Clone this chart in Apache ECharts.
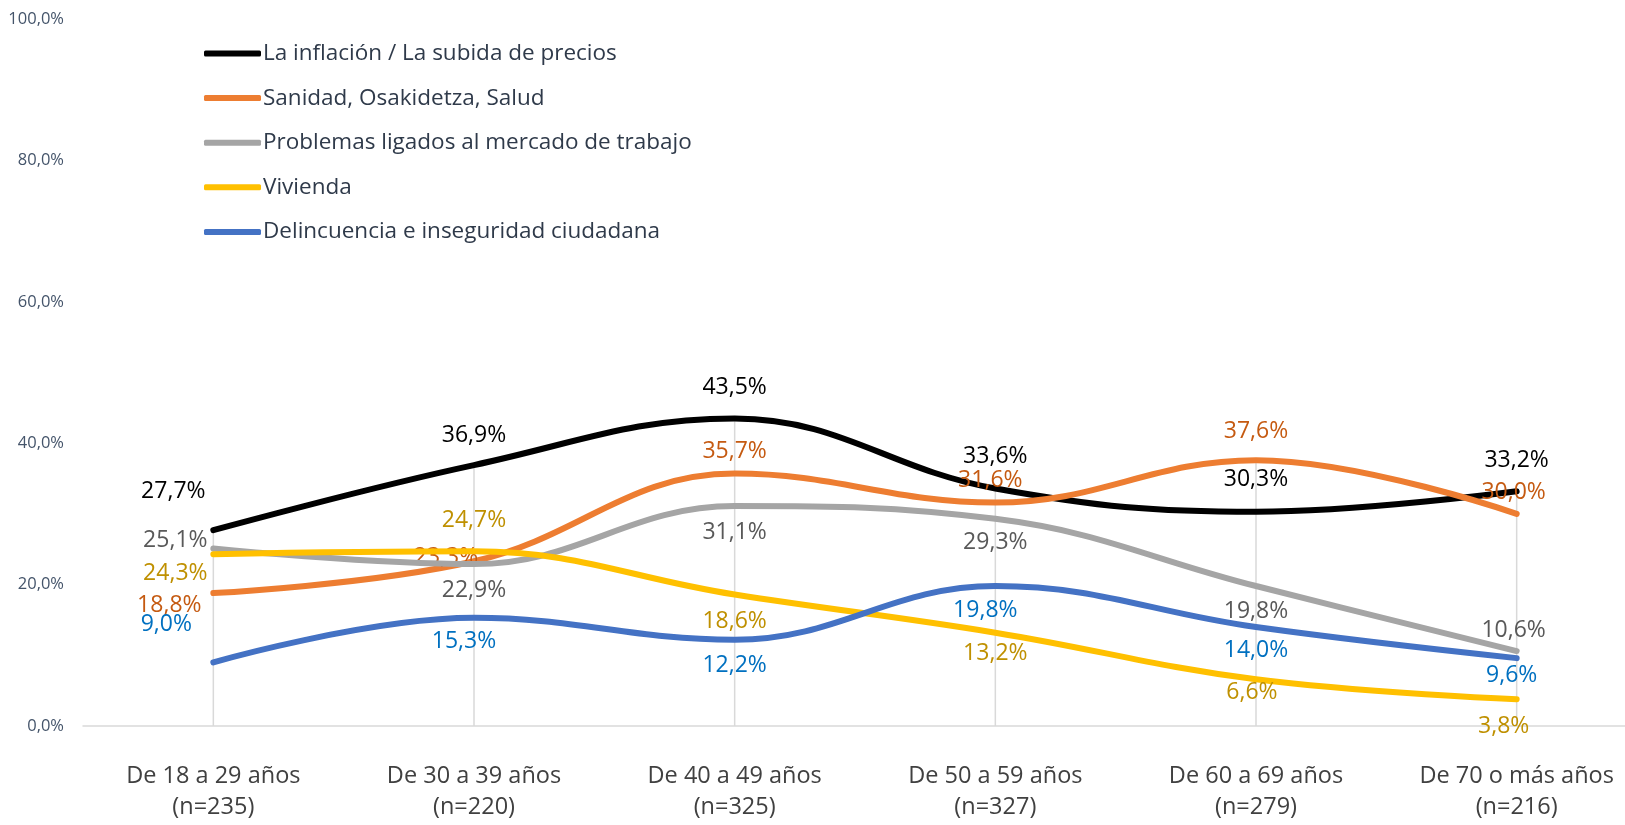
<!DOCTYPE html>
<html style="height: 100%">
<head>
    <meta charset="utf-8">
    <title>Problemas por edad</title>
</head>
<body style="height: 100%; margin: 0; background: #fff">
<div id="container" style="width:1625px;height:825px"></div>
<script type="text/javascript" src="https://cdn.jsdelivr.net/npm/echarts@6/dist/echarts.min.js"></script>
<script type="text/javascript">
// categorias (grupos de edad)
var categories = [
    'De 18 a 29 años\n(n=235)',
    'De 30 a 39 años\n(n=220)',
    'De 40 a 49 años\n(n=325)',
    'De 50 a 59 años\n(n=327)',
    'De 60 a 69 años\n(n=279)',
    'De 70 o más años\n(n=216)'
];
var seriesNames = [
    'La inflación / La subida de precios',
    'Sanidad, Osakidetza, Salud',
    'Problemas ligados al mercado de trabajo',
    'Vivienda',
    'Delincuencia e inseguridad ciudadana'
];
var inflacion = [27.7, 36.9, 43.5, 33.6, 30.3, 33.2];
var sanidad = [18.8, 23.3, 35.7, 31.6, 37.6, 30.0];
var trabajo = [25.1, 22.9, 31.1, 29.3, 19.8, 10.6];
var vivienda = [24.3, 24.7, 18.6, 13.2, 6.6, 3.8];
var delincuencia = [9.0, 15.3, 12.2, 19.8, 14.0, 9.6];
var yTicks = [0, 20, 40, 60, 80, 100];

// estilos
var lineColors = ['#000000', '#ED7D31', '#A5A5A5', '#FFC000', '#4472C4'];
var labelColors = ['#000000', '#C55A11', '#595959', '#BF9000', '#0070C0'];
var labelOffsets = [
    [[-40, -39], [0, -30], [0, -31], [0, -32], [0, -32], [0, -31]],
    [[-44, 12], [-28, -4], [0, -22], [-5, -22], [0, -29], [-3, -21]],
    [[-38, -8], [0, 26], [0, 26], [0, 24], [0, 25], [-3, -21]],
    [[-38, 19], [0, -31], [0, 27], [0, 21], [-4, 13], [-13, 27]],
    [[-47, -38], [-10, 24], [0, 26], [-10, 24], [0, 23], [-5, 17]]
];

var allData = [inflacion, sanidad, trabajo, vivienda, delincuencia];
var font = '"Open Sans", "Noto Sans", sans-serif';

function pct(v) {
    return v.toFixed(1).replace('.', ',') + '%';
}

// lineas verticales hasta el valor maximo de cada categoria
var dropMax = categories.map(function (c, i) {
    return Math.max.apply(null, allData.map(function (d) { return d[i]; }));
});

var series = [{
    name: 'drop',
    type: 'bar',
    data: dropMax,
    barWidth: 1.5,
    silent: true,
    z: 1,
    itemStyle: { color: '#d9d9d9' }
}];

allData.forEach(function (d, s) {
    series.push({
        name: seriesNames[s],
        type: 'line',
        smooth: 0.4,
        symbol: 'circle',
        symbolSize: 1,
        z: 2 + s,
        lineStyle: { width: 6, color: lineColors[s], cap: 'round' },
        itemStyle: { color: lineColors[s] },
        data: d.map(function (v, i) {
            return {
                value: v,
                label: { offset: labelOffsets[s][i] }
            };
        }),
        label: {
            show: true,
            position: 'inside',
            align: 'center',
            verticalAlign: 'middle',
            fontFamily: font,
            fontSize: 23,
            color: labelColors[s],
            formatter: function (p) { return pct(p.value); }
        }
    });
});

var dom = document.getElementById('container');
var myChart = echarts.init(dom);
var option = {
    animation: false,
    backgroundColor: '#ffffff',
    grid: { left: 83, width: 1564, top: 19, bottom: 99, outerBoundsMode: 'none', containLabel: false },
    legend: {
        data: seriesNames,
        orient: 'vertical',
        left: 199,
        top: 35,
        itemWidth: 57,
        itemHeight: 6,
        itemGap: 17.6,
        icon: 'roundRect',
        textStyle: {
            fontFamily: font, fontSize: 22.5, color: '#2f3a4a', lineHeight: 27,
            padding: [0, 0, 0, -3]
        }
    },
    xAxis: {
        type: 'category',
        data: categories,
        boundaryGap: true,
        axisLine: { lineStyle: { color: '#d9d9d9', width: 1.5 } },
        axisTick: { show: false },
        axisLabel: {
            interval: 0,
            margin: 35,
            fontFamily: font,
            fontSize: 23.5,
            lineHeight: 31,
            color: '#404040'
        },
        splitLine: { show: false }
    },
    yAxis: {
        type: 'value',
        min: yTicks[0],
        max: yTicks[yTicks.length - 1],
        interval: yTicks[1] - yTicks[0],
        axisLine: { show: false },
        axisTick: { show: false },
        splitLine: { show: false },
        axisLabel: {
            margin: 19,
            fontFamily: font,
            fontSize: 16.5,
            color: '#44546a',
            formatter: function (v) { return pct(v); }
        }
    },
    series: series
};
myChart.setOption(option);
</script>
</body>
</html>
